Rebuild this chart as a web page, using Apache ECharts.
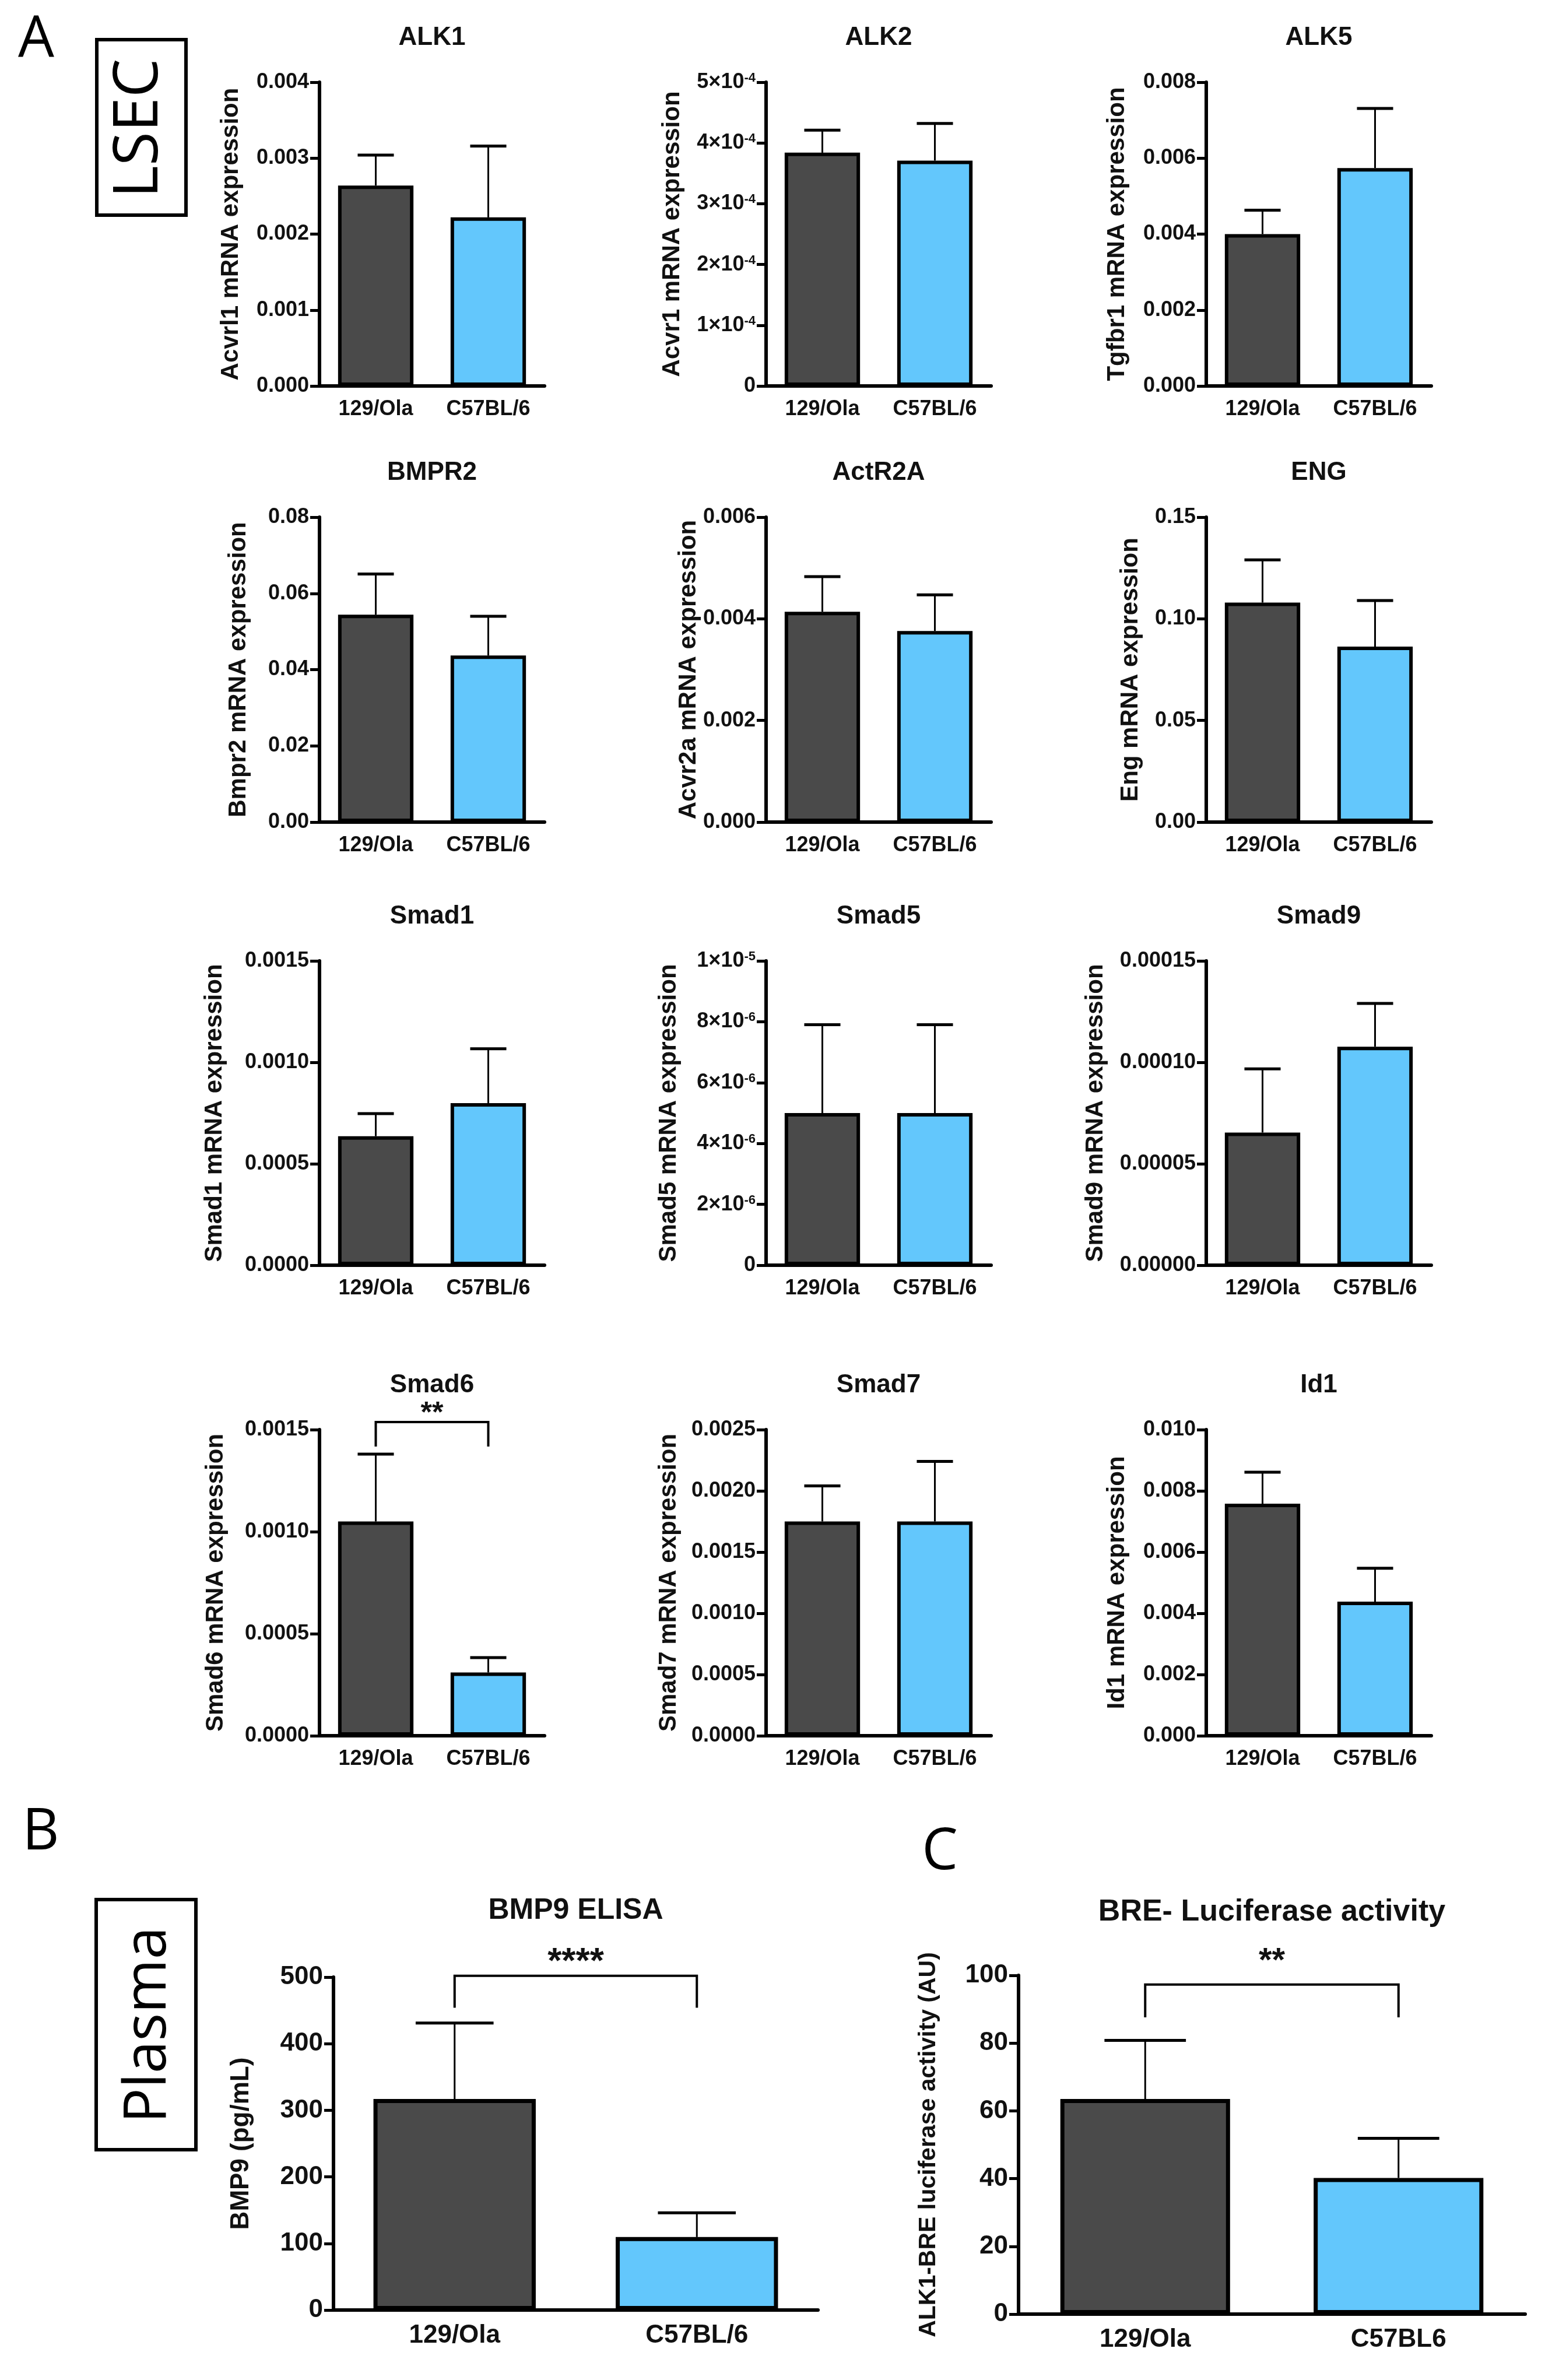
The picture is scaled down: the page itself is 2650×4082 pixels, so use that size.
<!DOCTYPE html>
<html>
<head>
<meta charset="utf-8">
<script src="https://cdn.jsdelivr.net/npm/echarts@6/dist/echarts.min.js"></script>
<style>
  html, body { margin: 0; padding: 0; background: #fff; }
  #chart { width: 2650px; height: 4082px; }
</style>
</head>
<body>
<div id="chart"></div>
<script>
// ---------------------------------------------------------------------------
// Panel A - LSEC mRNA expression (12 small bar charts, mean + SEM)
// ---------------------------------------------------------------------------
const panelTitles = ["ALK1", "ALK2", "ALK5", "BMPR2", "ActR2A", "ENG",
  "Smad1", "Smad5", "Smad9", "Smad6", "Smad7", "Id1"];
const yAxisNames = ["Acvrl1 mRNA expression", "Acvr1 mRNA expression", "Tgfbr1 mRNA expression",
  "Bmpr2 mRNA expression", "Acvr2a mRNA expression", "Eng mRNA expression",
  "Smad1 mRNA expression", "Smad5 mRNA expression", "Smad9 mRNA expression",
  "Smad6 mRNA expression", "Smad7 mRNA expression", "Id1 mRNA expression"];
const strains = ["129/Ola", "C57BL/6"];

const mean129 = [0.00264, 3.84e-4, 0.0040, 0.0544, 0.00414, 0.108, 0.000636, 5.0e-6, 6.54e-5, 0.00105, 0.00175, 0.00758];
const sem129 = [0.00040, 0.37e-4, 0.00063, 0.0107, 0.00069, 0.021, 0.000111, 2.9e-6, 3.14e-5, 0.00033, 0.00029, 0.00103];
const meanB6 = [0.00222, 3.71e-4, 0.00574, 0.0437, 0.00376, 0.0863, 0.000799, 5.0e-6, 10.77e-5, 0.00031, 0.00175, 0.00438];
const semB6 = [0.00094, 0.61e-4, 0.00157, 0.0103, 0.00071, 0.0227, 0.000268, 2.9e-6, 2.13e-5, 0.000073, 0.00049, 0.00109];

// axis range and tick labels ("sci" = a x 10^b)
const yMax = [0.004, 5e-4, 0.008, 0.08, 0.006, 0.15, 0.0015, 1e-5, 0.00015, 0.0015, 0.0025, 0.010];
const yStep = [0.001, 1e-4, 0.002, 0.02, 0.002, 0.05, 0.0005, 2e-6, 0.00005, 0.0005, 0.0005, 0.002];
const tickFormat = [3, "sci", 3, 2, 3, 2, 4, "sci", 5, 4, 4, 3];

// Smad6 significance bracket: [leg bottom, bracket top, star label y]
const smad6Bracket = [0.001417, 0.001537, 0.001606];
const smad6Stars = "**";

// ---------------------------------------------------------------------------
// Panel B - plasma BMP9 ELISA, Panel C - BRE luciferase
// ---------------------------------------------------------------------------
const bmp9Mean = [317, 109.6];
const bmp9Sem = [114, 36.5];
const bmp9Bracket = [454, 502, 533];
const bmp9Stars = "****";

const breCategories = ["129/Ola", "C57BL6"];
const breMean = [63.5, 40.2];
const breSem = [17.3, 11.7];
const breBracket = [87.6, 97.3, 106];
const breStars = "**";

const DARK = "#4a4a4a";
const BLUE = "#63c7fc";
const FONT = '"Liberation Sans", Arial, sans-serif';
const LETTER_FONT = '"Open Sans", "Noto Sans", sans-serif';

function sciLabel(v) {
  if (v === 0) return "0";
  let e = Math.floor(Math.log10(v) + 1e-9);
  let m = Math.round(v / Math.pow(10, e));
  if (m >= 10) { m = m / 10; e += 1; }
  return `{m|${m}×10}{e|${e}}`;
}

// layout of the 4x3 grid of small charts
const colLeft = [548, 1314, 2069];
const rowTop = [141, 887, 1648, 2452];
const rowBottom = [662, 1410, 2170, 2977];
const nameGaps = [131, 140, 132, 118, 109, 109, 159, 146, 169, 157, 146, 132];

const panels = panelTitles.map((t, i) => {
  const r = Math.floor(i / 3), c = i % 3;
  return {
    title: t,
    yName: yAxisNames[i],
    cats: strains,
    mean: [mean129[i], meanB6[i]],
    sem: [sem129[i], semB6[i]],
    max: yMax[i], step: yStep[i], fmt: tickFormat[i],
    nameGap: nameGaps[i],
    grid: { left: colLeft[c], top: rowTop[r], width: 386, height: rowBottom[r] - rowTop[r] },
    titleY: rowTop[r] - 76,
    fs: { title: 44, tick: 36, cat: 36, name: 42, stars: 50 },
    border: 6,
    bracket: t === "Smad6" ? { v: smad6Bracket, text: smad6Stars } : null
  };
});

panels.push({
  title: "BMP9 ELISA", yName: "BMP9 (pg/mL)", cats: strains,
  mean: bmp9Mean, sem: bmp9Sem, max: 500, step: 100, fmt: 0, nameGap: 136,
  grid: { left: 572, top: 3391, width: 831, height: 571 },
  titleY: 3277,
  fs: { title: 50, tick: 44, cat: 44, name: 44, stars: 62 },
  border: 7,
  bracket: { v: bmp9Bracket, text: bmp9Stars }
});

panels.push({
  title: "BRE- Luciferase activity", yName: "ALK1-BRE luciferase activity (AU)", cats: breCategories,
  mean: breMean, sem: breSem, max: 100, step: 20, fmt: 0, nameGap: 134,
  grid: { left: 1747, top: 3388, width: 869, height: 581 },
  titleY: 3280,
  fs: { title: 52, tick: 44, cat: 44, name: 41, stars: 58 },
  border: 7,
  bracket: { v: breBracket, text: breStars }
});

const option = {
  animation: false,
  backgroundColor: "#fff",
  title: [], grid: [], xAxis: [], yAxis: [], series: [],
  graphic: [
    { type: "text", x: 62, y: 69, style: { text: "A", fontSize: 98, fontFamily: LETTER_FONT, fill: "#000", align: "center", verticalAlign: "middle" } },
    { type: "text", x: 70, y: 3144, style: { text: "B", fontSize: 98, fontFamily: LETTER_FONT, fill: "#000", align: "center", verticalAlign: "middle" } },
    { type: "text", x: 1612, y: 3178, style: { text: "C", fontSize: 98, fontFamily: LETTER_FONT, fill: "#000", align: "center", verticalAlign: "middle" } },
    { type: "rect", shape: { x: 166, y: 68, width: 153, height: 301 }, style: { fill: "none", stroke: "#000", lineWidth: 6 } },
    { type: "text", x: 240, y: 220, rotation: Math.PI / 2, style: { text: "LSEC", fontSize: 106, fontFamily: LETTER_FONT, fill: "#000", align: "center", verticalAlign: "middle" } },
    { type: "rect", shape: { x: 165, y: 3258, width: 171, height: 429 }, style: { fill: "none", stroke: "#000", lineWidth: 6 } },
    { type: "text", x: 256, y: 3473, rotation: Math.PI / 2, style: { text: "Plasma", fontSize: 100, fontFamily: LETTER_FONT, fill: "#000", align: "center", verticalAlign: "middle" } }
  ]
};

panels.forEach((p, i) => {
  const fs = p.fs;
  option.title.push({
    text: p.title,
    left: p.grid.left + p.grid.width / 2,
    top: p.titleY - fs.title / 2,
    textAlign: "center",
    padding: 0,
    textStyle: { fontFamily: FONT, fontWeight: "bold", fontSize: fs.title, color: "#111" }
  });
  option.grid.push(Object.assign({ containLabel: false }, p.grid));

  option.xAxis.push({
    gridIndex: i,
    type: "category",
    data: p.cats,
    boundaryGap: true,
    axisLine: { lineStyle: { color: "#000", width: 6 } },
    axisTick: { alignWithLabel: true, length: 18, lineStyle: { color: "#000", width: 5 } },
    axisLabel: { margin: 22, fontSize: fs.cat, fontWeight: "bold", fontFamily: FONT, color: "#111", interval: 0 },
    splitLine: { show: false }
  });

  const labelFmt = p.fmt === "sci" ? sciLabel : (v) => v.toFixed(p.fmt);
  option.yAxis.push({
    gridIndex: i,
    type: "value",
    min: 0, max: p.max, interval: p.step,
    name: p.yName,
    nameLocation: "middle",
    nameGap: p.nameGap,
    nameRotate: 90,
    nameTextStyle: { fontFamily: FONT, fontWeight: "bold", fontSize: fs.name, color: "#111" },
    axisLine: { show: true, lineStyle: { color: "#000", width: 6 } },
    axisTick: { show: true, length: 16, lineStyle: { color: "#000", width: 5 } },
    axisLabel: {
      margin: 18, fontSize: fs.tick, fontWeight: "bold", fontFamily: FONT, color: "#111",
      formatter: labelFmt,
      rich: {
        m: { fontSize: fs.tick, fontWeight: "bold", fontFamily: FONT, color: "#111" },
        e: { fontSize: Math.round(fs.tick * 0.6), fontWeight: "bold", fontFamily: FONT, color: "#111", verticalAlign: "top" }
      }
    },
    splitLine: { show: false }
  });

  option.series.push({
    type: "bar",
    xAxisIndex: i, yAxisIndex: i,
    barWidth: "67%",
    z: 3,
    silent: true,
    itemStyle: { borderColor: "#000", borderWidth: p.border },
    data: p.mean.map((v, k) => ({ value: v, itemStyle: { color: k ? BLUE : DARK } }))
  });

  // SEM bars, upper side only
  option.series.push({
    type: "custom",
    xAxisIndex: i, yAxisIndex: i,
    z: 2,
    silent: true,
    data: p.mean.map((v, k) => [k, v, v + p.sem[k]]),
    renderItem: (params, api) => {
      const base = api.coord([api.value(0), api.value(1)]);
      const top = api.coord([api.value(0), api.value(2)]);
      const half = api.size([1, 0])[0] * 0.67 * 0.24;
      return {
        type: "group",
        children: [
          { type: "line", shape: { x1: base[0], y1: base[1], x2: top[0], y2: top[1] }, style: { stroke: "#000", lineWidth: 3 } },
          { type: "line", shape: { x1: top[0] - half, y1: top[1], x2: top[0] + half, y2: top[1] }, style: { stroke: "#000", lineWidth: 5 } }
        ]
      };
    }
  });

  if (p.bracket) {
    const b = p.bracket;
    option.series.push({
      type: "custom",
      xAxisIndex: i, yAxisIndex: i,
      z: 4,
      clip: false,
      silent: true,
      data: [[0, 1, b.v[0], b.v[1], b.v[2]]],
      renderItem: (params, api) => {
        const l0 = api.coord([api.value(0), api.value(2)]);
        const l1 = api.coord([api.value(0), api.value(3)]);
        const r1 = api.coord([api.value(1), api.value(3)]);
        const r0 = api.coord([api.value(1), api.value(2)]);
        const s = api.coord([0, api.value(4)]);
        return {
          type: "group",
          children: [
            { type: "polyline", shape: { points: [l0, l1, r1, r0] }, style: { stroke: "#000", lineWidth: 4, fill: "none" } },
            {
              type: "text", x: (l1[0] + r1[0]) / 2, y: s[1] + fs.stars * 0.2,
              style: { text: b.text, fontSize: fs.stars, fontWeight: "bold", fontFamily: FONT, fill: "#111", align: "center", verticalAlign: "middle" }
            }
          ]
        };
      }
    });
  }
});

const chart = echarts.init(document.getElementById("chart"), null, { renderer: "canvas" });
chart.setOption(option);
</script>
</body>
</html>
